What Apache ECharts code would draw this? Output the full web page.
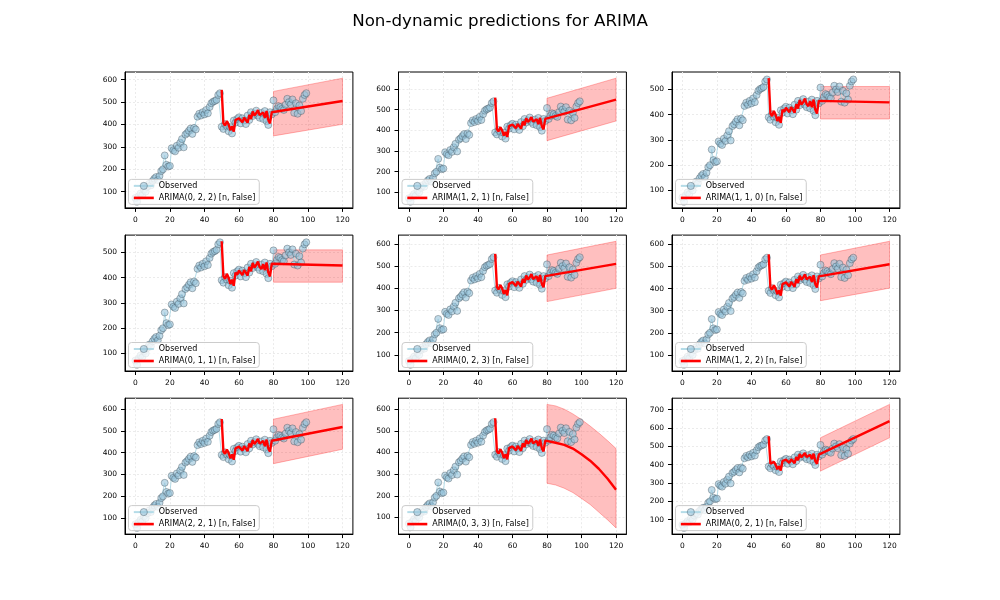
<!DOCTYPE html>
<html><head><meta charset="utf-8">
<script src="https://cdn.jsdelivr.net/npm/echarts@6/dist/echarts.min.js"></script>
<style>html,body{margin:0;padding:0;background:#fff}#chart{width:1000px;height:600px}</style>
</head><body><div id="chart"></div>
<script>
// Observed values, x = 0..99
const observed = [
  72, 55, 80, 92, 85, 108, 100, 122, 135, 128,
  148, 158, 165, 152, 170, 192, 200, 262, 220, 212,
  215, 294, 285, 280, 305, 296, 318, 335, 298, 355,
  362, 372, 382, 358, 385, 378, 435, 448, 440, 455,
  445, 465, 450, 478, 495, 502, 505, 510, 532, 540,
  390, 380, 402, 392, 370, 388, 360, 418, 408, 425,
  432, 405, 428, 418, 402, 440, 420, 455, 438, 448,
  462, 440, 430, 452, 425, 460, 415, 398, 455, 445,
  508, 455, 470, 482, 478, 470, 465, 488, 515, 500,
  490, 512, 452, 495, 448, 485, 460, 515, 532, 540
];
// One-step in-sample predictions, x = 51..79 (shared)
const inSample = [
  405, 395, 415, 400, 375, 392, 368, 420, 412,
  428, 435, 410, 430, 420, 408, 442, 425, 458, 440,
  450, 464, 442, 434, 454, 430, 460, 420, 405, 455
];
const modelNames = [
  'ARIMA(0, 2, 2) [n, False]', 'ARIMA(1, 2, 1) [n, False]', 'ARIMA(1, 1, 0) [n, False]',
  'ARIMA(0, 1, 1) [n, False]', 'ARIMA(0, 2, 3) [n, False]', 'ARIMA(1, 2, 2) [n, False]',
  'ARIMA(2, 2, 1) [n, False]', 'ARIMA(0, 3, 3) [n, False]', 'ARIMA(0, 2, 1) [n, False]'
];
// first in-sample prediction at x = 50, per panel
const predStart = [555, 558, 545, 544, 555, 555, 555, 558, 555];
const fcXLinear = [80, 120];
const fcXCurve = [80, 85, 90, 95, 100, 105, 110, 115, 120];
const fcMean = [
  [450, 505], [452, 548], [449, 449], [448, 448], [452, 510], [452, 510], [452, 518],
  [450, 445, 435, 418, 392, 362, 325, 280, 228], [456, 638]
];
const fcLower = [
  [349, 401], [350, 445], [383, 383], [382, 382], [340, 400], [345, 402], [350, 416],
  [258, 250, 235, 215, 188, 160, 125, 90, 52], [365, 547]
];
const fcUpper = [
  [548, 607], [555, 652], [512, 512], [510, 510], [550, 612], [552, 614], [554, 622],
  [622, 615, 600, 578, 552, 522, 490, 455, 418], [547, 729]
];
const xTicks = [0, 20, 40, 60, 80, 100, 120];

const chart = echarts.init(document.getElementById('chart'), null, {renderer: 'canvas'});
const grids = [], xAxes = [], yAxes = [], series = [], legends = [];
const GW = 227.9, GH = 135.9;
for (let i = 0; i < 9; i++) {
  const r = Math.floor(i / 3), c = i % 3;
  const left = 125 + c * 273.5, top = 72 + r * 163.1;
  grids.push({left: left, top: top, width: GW, height: GH, show: true, borderColor: '#000', borderWidth: 1, backgroundColor: '#fff'});
  const fcX = fcMean[i].length === 2 ? fcXLinear : fcXCurve;
  const vals = observed.concat([predStart[i]], inSample, fcMean[i], fcLower[i], fcUpper[i]);
  const mn = Math.min(...vals), mx = Math.max(...vals);
  const pad = (mx - mn) * 0.05;
  const ymin = mn - pad, ymax = mx + pad;
  const yTicks = [];
  for (let v = Math.ceil(ymin / 100) * 100; v <= ymax; v += 100) yTicks.push(v);
  xAxes.push({
    type: 'value', gridIndex: i, min: -6, max: 126,
    axisLine: {show: true, onZero: false, lineStyle: {color: '#000', width: 1}},
    axisTick: {show: true, customValues: xTicks, length: 4, lineStyle: {color: '#000'}},
    axisLabel: {customValues: xTicks, fontSize: 7.5, color: '#000', margin: 8},
    splitLine: {show: true, lineStyle: {color: '#ebebeb', type: [2, 2], width: 1}}
  });
  yAxes.push({
    type: 'value', gridIndex: i, min: ymin, max: ymax,
    axisLine: {show: true, onZero: false, lineStyle: {color: '#000', width: 1}},
    axisTick: {show: true, customValues: yTicks, length: 4, lineStyle: {color: '#000'}},
    axisLabel: {customValues: yTicks, fontSize: 7.5, color: '#000', margin: 8},
    splitLine: {show: true, lineStyle: {color: '#ebebeb', type: [2, 2], width: 1}}
  });
  const lo = fcLower[i], hi = fcUpper[i];
  series.push({
    type: 'custom', xAxisIndex: i, yAxisIndex: i, z: 1, silent: true, name: 'band' + i,
    data: fcX.map((x, k) => [x, lo[k], hi[k]]),
    encode: {x: 0, y: [1, 2]},
    renderItem: function (params, api) {
      if (params.dataIndex !== 0) return {type: 'group', children: []};
      const pts = [];
      for (let k = 0; k < fcX.length; k++) pts.push(api.coord([fcX[k], hi[k]]));
      for (let k = fcX.length - 1; k >= 0; k--) pts.push(api.coord([fcX[k], lo[k]]));
      return {type: 'polygon', shape: {points: pts}, style: {fill: 'rgba(255,0,0,0.25)', stroke: 'rgba(255,0,0,0.28)', lineWidth: 1}};
    }
  });
  series.push({
    type: 'line', name: 'Observed', xAxisIndex: i, yAxisIndex: i, z: 2,
    data: observed.map((v, k) => [k, v]),
    symbol: 'circle', symbolSize: 7, showSymbol: true,
    lineStyle: {color: 'rgba(173,216,230,0.9)', width: 1},
    itemStyle: {color: 'rgba(150,195,218,0.6)', borderColor: 'rgba(50,60,70,0.5)', borderWidth: 0.7},
    emphasis: {disabled: true}
  });
  const predData = [[50, predStart[i]]]
    .concat(inSample.map((v, k) => [51 + k, v]))
    .concat(fcX.map((x, k) => [x, fcMean[i][k]]));
  series.push({
    type: 'line', name: modelNames[i], xAxisIndex: i, yAxisIndex: i, z: 3,
    data: predData, symbol: 'none', showSymbol: false,
    lineStyle: {color: '#ff0000', width: 2.4}, itemStyle: {color: '#ff0000'},
    emphasis: {disabled: true}
  });
  legends.push({
    data: [
      {name: 'Observed', itemStyle: {borderWidth: 0.7}},
      {name: modelNames[i], itemStyle: {opacity: 0}, lineStyle: {width: 2.6}}
    ],
    orient: 'vertical',
    left: left + 3.5, bottom: 600 - (top + GH) + 3.5,
    backgroundColor: 'rgba(255,255,255,0.8)', borderColor: '#cccccc', borderWidth: 1, borderRadius: 3,
    padding: [2.5, 4], itemGap: 4, itemWidth: 20, itemHeight: 9,
    textStyle: {fontSize: 8, color: '#000'}, selectedMode: false
  });
}
chart.setOption({
  animation: false,
  textStyle: {fontFamily: 'DejaVu Sans'},
  title: {text: 'Non-dynamic predictions for ARIMA', left: 'center', top: 8,
    textStyle: {fontSize: 16.7, fontWeight: 'normal', color: '#000', fontFamily: 'DejaVu Sans'}},
  grid: grids, xAxis: xAxes, yAxis: yAxes, series: series, legend: legends
});
</script></body></html>
